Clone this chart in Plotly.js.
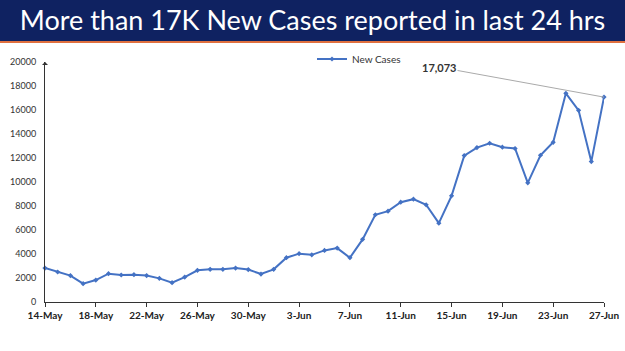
<!DOCTYPE html>
<html><head><meta charset="utf-8">
<script src="https://cdn.plot.ly/plotly-3.0.1.min.js"></script>
<style>html,body{margin:0;padding:0;background:#fff}#chart{width:625px;height:351px}</style>
</head><body><div id="chart"></div>
<script>
const dates = ['14-May','15-May','16-May','17-May','18-May','19-May','20-May','21-May','22-May','23-May','24-May','25-May','26-May','27-May','28-May','29-May','30-May','31-May','1-Jun','2-Jun','3-Jun','4-Jun','5-Jun','6-Jun','7-Jun','8-Jun','9-Jun','10-Jun','11-Jun','12-Jun','13-Jun','14-Jun','15-Jun','16-Jun','17-Jun','18-Jun','19-Jun','20-Jun','21-Jun','22-Jun','23-Jun','24-Jun','25-Jun','26-Jun','27-Jun'];
const newCases = [2830,2500,2200,1530,1830,2360,2250,2280,2200,1970,1610,2080,2640,2720,2720,2830,2700,2330,2720,3690,4030,3930,4300,4490,3690,5220,7270,7570,8320,8570,8100,6570,8850,12200,12870,13230,12900,12790,9930,12230,13310,17390,15970,11700,17073];
const tickLabels = ['14-May','18-May','22-May','26-May','30-May','3-Jun','7-Jun','11-Jun','15-Jun','19-Jun','23-Jun','27-Jun'];
const yTicks = [0,2000,4000,6000,8000,10000,12000,14000,16000,18000,20000];
const titleText = 'More than 17K New Cases reported in last 24 hrs';
const seriesName = 'New Cases';
const calloutText = '17,073';

const W = 625, H = 351, mL = 45, mR = 21, mT = 62, mB = 49;
const pw = W - mL - mR, ph = H - mT - mB;
const px = x => (x - mL) / pw;
const py = y => (H - mB - y) / ph;

const trace = {
  x: dates, y: newCases, type: 'scatter', mode: 'lines+markers', name: seriesName,
  line: {color: '#4472C4', width: 2},
  marker: {color: '#4472C4', size: 4, symbol: 'diamond'},
  cliponaxis: false
};
const last = dates.length - 1;
const layout = {
  width: W, height: H,
  margin: {l: mL, r: mR, t: mT, b: mB},
  paper_bgcolor: '#fff', plot_bgcolor: '#fff',
  font: {family: 'Lato, "Open Sans", sans-serif', color: '#333'},
  title: {text: titleText, x: 0.5, xref: 'container', xanchor: 'center',
          y: 1 - 21 / H, yref: 'container', yanchor: 'middle',
          font: {family: 'Lato, sans-serif', size: 27, color: '#ffffff'}},
  showlegend: true,
  legend: {x: px(312), y: py(59), xanchor: 'left', yanchor: 'middle', bgcolor: 'rgba(0,0,0,0)',
           itemwidth: 30, font: {size: 10, color: '#333'}},
  xaxis: {type: 'category', range: [0, last], showgrid: false, zeroline: false,
          showline: true, linecolor: '#333', linewidth: 1,
          tickmode: 'array', tickvals: tickLabels, ticktext: tickLabels,
          ticks: 'outside', ticklen: 4, tickcolor: '#333', tickangle: 0,
          tickfont: {size: 10, color: '#222', family: 'Lato, sans-serif', weight: 'bold'}},
  yaxis: {range: [0, 20000], tickmode: 'array', tickvals: yTicks, ticktext: yTicks.map(String),
          showgrid: false, zeroline: false,
          showline: true, linecolor: '#333', linewidth: 1, ticks: '',
          ticklabelstandoff: 6,
          tickfont: {size: 9, color: '#333'}},
  shapes: [
    {type: 'rect', xref: 'paper', yref: 'paper', x0: px(0), x1: px(W), y0: py(41), y1: py(0),
     fillcolor: '#0f2261', line: {width: 0}, layer: 'below'},
    {type: 'rect', xref: 'paper', yref: 'paper', x0: px(0), x1: px(W), y0: py(43), y1: py(41),
     fillcolor: '#e0703f', line: {width: 0}, layer: 'below'}
  ],
  annotations: [
    {x: dates[last], y: newCases[last], xref: 'x', yref: 'y', text: '<b>' + calloutText + '</b>',
     showarrow: true, arrowhead: 0, arrowwidth: 1, arrowcolor: '#aaaaaa',
     ax: -165, ay: -30, font: {size: 11, color: '#333'}},
    {x: 0, y: 1, xref: 'paper', yref: 'paper', text: '', showarrow: true, arrowhead: 1,
     arrowsize: 1, arrowwidth: 1, arrowcolor: '#333', ax: 0, ay: 4, standoff: -3}
  ]
};
Plotly.newPlot('chart', [trace], layout, {staticPlot: true, displayModeBar: false});
</script></body></html>
